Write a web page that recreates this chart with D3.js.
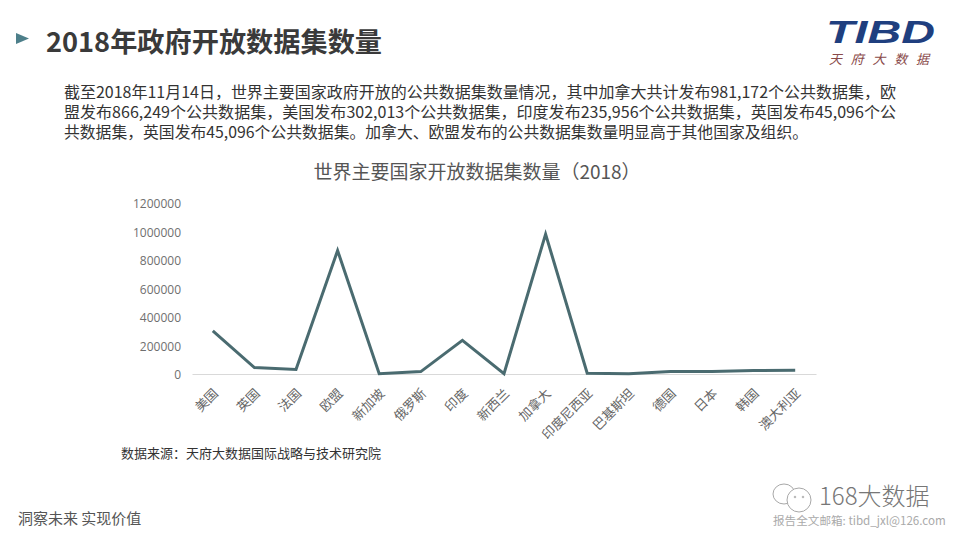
<!DOCTYPE html>
<html lang="zh">
<head>
  <meta charset="UTF-8">
  <title>2018年政府开放数据集数量</title>
  <script src="https://d3js.org/d3.v7.min.js"></script>
  <style>
    body { margin: 0; background: #fff; }
    svg { display: block; }
    text { font-family: "Noto Sans CJK SC", "Noto Sans", sans-serif; }
    .latin { font-family: "Open Sans", "Noto Sans", sans-serif; }
    .logo { font-family: "Liberation Sans", sans-serif; }
  </style>
</head>
<body>
  <svg id="chart" width="960" height="540"></svg>
  <script>
    const countries = ["美国", "英国", "法国", "欧盟", "新加坡", "俄罗斯", "印度", "新西兰", "加拿大", "印度尼西亚", "巴基斯坦", "德国", "日本", "韩国", "澳大利亚"];
    const datasets = [302013, 45096, 32000, 866249, 1500, 17000, 235956, 3000, 981172, 6000, 1500, 17000, 17000, 24000, 26000];
    const yTicks = [0, 200000, 400000, 600000, 800000, 1000000, 1200000];
    const bodyLines = [
      "截至2018年11月14日，世界主要国家政府开放的公共数据集数量情况，其中加拿大共计发布981,172个公共数据集，欧",
      "盟发布866,249个公共数据集，美国发布302,013个公共数据集，印度发布235,956个公共数据集，英国发布45,096个公",
      "共数据集，英国发布45,096个公共数据集。加拿大、欧盟发布的公共数据集数量明显高于其他国家及组织。"
    ];
    const bodyWidths = [832, 832, 744];

    const svg = d3.select("#chart");

    // header
    svg.append("path").attr("d", "M16,33L29,38.5L16,44Z").attr("fill", "#4d7f8a");
    svg.append("text").attr("x", 46).attr("y", 52)
      .attr("font-size", 27.2).attr("font-weight", 700).attr("fill", "#3a3a3a")
      .text("2018年政府开放数据集数量");

    svg.append("g").selectAll("text").data(bodyLines).join("text")
      .attr("x", 64)
      .attr("y", (d, i) => 98 + i * 20)
      .attr("font-size", 15.6)
      .attr("fill", "#333")
      .attr("textLength", (d, i) => bodyWidths[i])
      .attr("lengthAdjust", "spacingAndGlyphs")
      .text(d => d);

    // logo
    svg.append("text").attr("x", 826).attr("y", 43)
      .attr("class", "logo")
      .attr("font-size", 31).attr("font-weight", 700).attr("font-style", "italic")
      .attr("fill", "#1f3f7f").attr("textLength", 109).attr("lengthAdjust", "spacingAndGlyphs")
      .text("TIBD");
    svg.append("text").attr("x", 829).attr("y", 64)
      .attr("font-size", 13).attr("font-style", "italic")
      .attr("fill", "#8a4a4a").attr("textLength", 100)
      .text("天府大数据");

    // chart
    const x = d3.scaleBand().domain(countries).range([192, 816]);
    const y = d3.scaleLinear().domain([0, 1200000]).range([374, 203]);
    const px = d => x(d) + x.bandwidth() / 2;

    svg.append("text").attr("x", 477).attr("y", 179)
      .attr("text-anchor", "middle").attr("font-size", 19).attr("fill", "#555")
      .text("世界主要国家开放数据集数量（2018）");

    const yAxis = svg.append("g").attr("transform", "translate(192,1)")
      .call(d3.axisLeft(y).tickValues(yTicks).tickSize(0).tickPadding(11).tickFormat(d3.format("d")));
    yAxis.select(".domain").remove();
    yAxis.selectAll("text").attr("class", "latin").attr("font-size", 12).attr("fill", "#6f6f6f");

    const xAxis = svg.append("g").attr("transform", "translate(0,374)")
      .call(d3.axisBottom(x).tickSize(0));
    xAxis.select(".domain").attr("stroke", "#d9d9d9");
    xAxis.selectAll("text")
      .attr("font-size", 13).attr("fill", "#666")
      .attr("text-anchor", "end")
      .attr("x", 0).attr("y", 0).attr("dy", "0.35em")
      .attr("transform", "translate(3,17) rotate(-45)");

    const line = d3.line().x((d, i) => px(countries[i])).y(d => y(d));
    svg.append("path").datum(datasets)
      .attr("d", line).attr("fill", "none")
      .attr("stroke", "#4a6b70").attr("stroke-width", 3)
      .attr("stroke-linejoin", "miter");

    svg.append("text").attr("x", 121).attr("y", 458)
      .attr("font-size", 13).attr("fill", "#333")
      .text("数据来源：天府大数据国际战略与技术研究院");

    // footer
    svg.append("text").attr("x", 18).attr("y", 524)
      .attr("font-size", 15).attr("fill", "#555")
      .text("洞察未来 实现价值");

    // wechat mark
    const wechat = svg.append("g").attr("fill", "#fff").attr("stroke", "#a8a8a8").attr("stroke-width", 1);
    wechat.append("ellipse").attr("cx", 784).attr("cy", 494).attr("rx", 11).attr("ry", 10);
    wechat.append("ellipse").attr("cx", 799).attr("cy", 500).attr("rx", 12).attr("ry", 12);
    wechat.append("circle").attr("cx", 795).attr("cy", 497).attr("r", 0.8);
    wechat.append("circle").attr("cx", 803).attr("cy", 497).attr("r", 0.8);

    svg.append("text").attr("x", 819).attr("y", 505)
      .attr("font-size", 24).attr("font-weight", 300).attr("fill", "#777")
      .text("168大数据");
    svg.append("text").attr("x", 773).attr("y", 525)
      .attr("font-size", 11.6).attr("fill", "#aaa")
      .text("报告全文邮箱: tibd_jxl@126.com");
  </script>
</body>
</html>
